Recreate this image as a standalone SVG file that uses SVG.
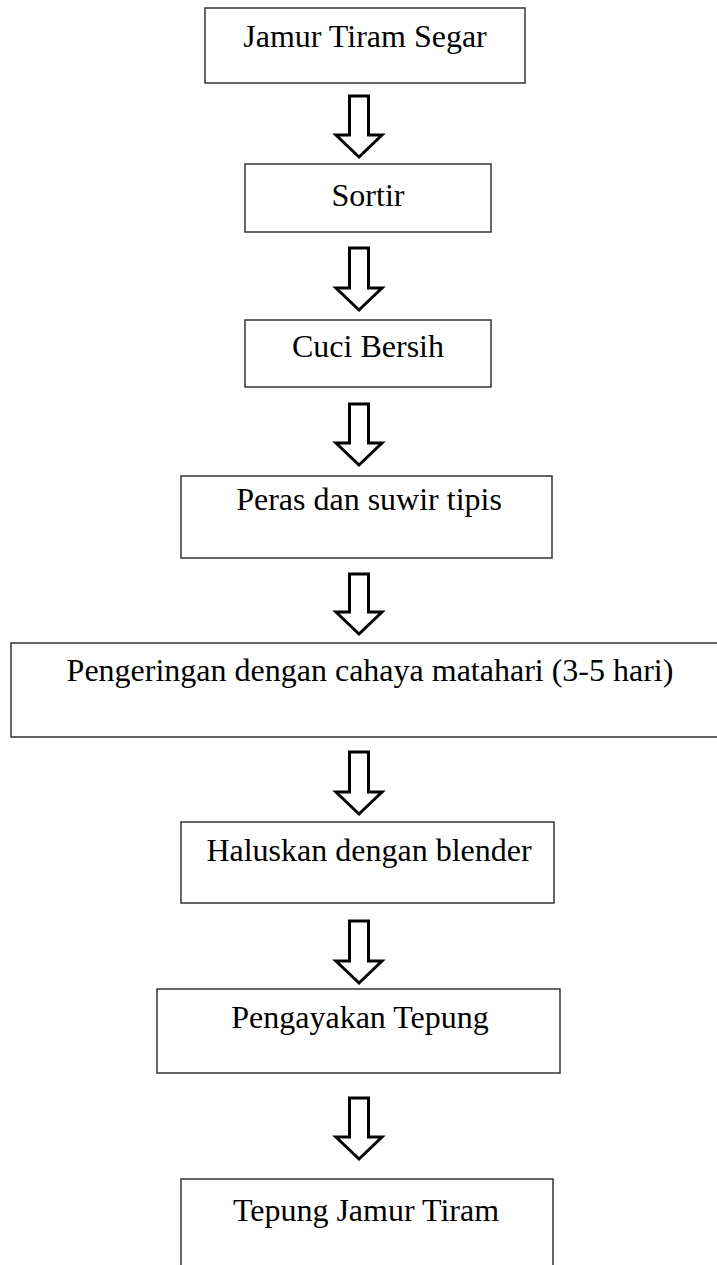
<svg xmlns="http://www.w3.org/2000/svg" width="717" height="1265" viewBox="0 0 717 1265">
<style>
.box{fill:#fff;stroke:#333;stroke-width:1.5}
.lbl{font-family:"Liberation Serif","Times New Roman",serif;font-size:32px;fill:#000;text-anchor:middle}
.arr{fill:#fff;stroke:#000;stroke-width:3;stroke-linejoin:miter}
</style>
<rect width="717" height="1265" fill="#fff"/>
<g id="connectors">
<polygon class="arr" points="349.5,96 368.5,96 368.5,135 382,135 359,157 336,135 349.5,135"/>
<polygon class="arr" points="349.5,248 368.5,248 368.5,288 382,288 359,310 336,288 349.5,288"/>
<polygon class="arr" points="349.5,404 368.5,404 368.5,443 382,443 359,465 336,443 349.5,443"/>
<polygon class="arr" points="349.5,574 368.5,574 368.5,612 382,612 359,634 336,612 349.5,612"/>
<polygon class="arr" points="349.5,752 368.5,752 368.5,792 382,792 359,814 336,792 349.5,792"/>
<polygon class="arr" points="349.5,921 368.5,921 368.5,961 382,961 359,983 336,961 349.5,961"/>
<polygon class="arr" points="349.5,1098 368.5,1098 368.5,1137 382,1137 359,1159 336,1137 349.5,1137"/>
</g>
<g id="n1"><rect class="box" x="205" y="8" width="320" height="75"/><text class="lbl" x="365" y="47">Jamur Tiram Segar</text></g>
<g id="n2"><rect class="box" x="245" y="164" width="246" height="68"/><text class="lbl" x="368" y="206">Sortir</text></g>
<g id="n3"><rect class="box" x="245" y="320" width="246" height="67"/><text class="lbl" x="368" y="357">Cuci Bersih</text></g>
<g id="n4"><rect class="box" x="181" y="476" width="371" height="82"/><text class="lbl" x="369" y="510">Peras dan suwir tipis</text></g>
<g id="n5"><rect class="box" x="11" y="643" width="712" height="94"/><text class="lbl" x="370" y="681">Pengeringan dengan cahaya matahari (3-5 hari)</text></g>
<g id="n6"><rect class="box" x="181" y="822" width="373" height="81"/><text class="lbl" x="369" y="861">Haluskan dengan blender</text></g>
<g id="n7"><rect class="box" x="157" y="989" width="403" height="84"/><text class="lbl" x="360" y="1028">Pengayakan Tepung</text></g>
<g id="n8"><rect class="box" x="181" y="1179" width="372" height="100"/><text class="lbl" x="366" y="1221">Tepung Jamur Tiram</text></g>
</svg>
